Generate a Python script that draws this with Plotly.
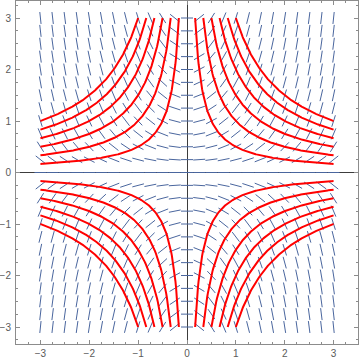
import numpy as np
import plotly.graph_objects as go

# ---- data ----
grid_x = [-3 + 0.25 * i for i in range(25)]      # arrow columns
grid_y = [-3 + 0.25 * i for i in range(25)]      # arrow rows
curve_c = [0.5, 1.0, 1.5, 2.0, 2.5, 3.0]          # red curves y = ±c/x
x_ticks = [-3, -2, -1, 0, 1, 2, 3]
y_ticks = [-3, -2, -1, 0, 1, 2, 3]

X_RANGE = [-3.5, 3.5]
Y_RANGE = [-3.33, 3.33]
W, H = 360, 361
ML, MR, MT, MB = 16, 2, 1, 17
sx = (W - ML - MR) / (X_RANGE[1] - X_RANGE[0])
sy = (H - MT - MB) / (Y_RANGE[1] - Y_RANGE[0])

def slope(x, y):
    return x * y

# slope-field segments
seg_x, seg_y = [], []
L = 12  # pixels
for gx in grid_x:
    for gy in grid_y:
        m = slope(gx, gy)
        px, py = sx * 1.0, sy * m
        n = np.hypot(px, py)
        dx = (px / n) * L / 2 / sx
        dy = (py / n) * L / 2 / sy
        seg_x += [gx - dx, gx + dx, None]
        seg_y += [gy - dy, gy + dy, None]

fig = go.Figure()
fig.add_trace(go.Scatter(x=seg_x, y=seg_y, mode="lines",
                         line=dict(color="rgb(74,102,158)", width=1),
                         hoverinfo="skip", showlegend=False))

# red curves in four quadrants
for c in curve_c:
    xs = np.linspace(c / 3, 3, 200)
    ys = c / xs
    for sxn, syn in [(1, 1), (-1, 1), (1, -1), (-1, -1)]:
        fig.add_trace(go.Scatter(x=sxn * xs, y=syn * ys, mode="lines",
                                 line=dict(color="rgb(255,0,0)", width=2),
                                 hoverinfo="skip", showlegend=False))

axis_common = dict(
    showgrid=False, zeroline=True, zerolinecolor="rgb(60,60,60)", zerolinewidth=1,
    showline=True, mirror="allticks", linecolor="rgb(140,140,140)", linewidth=1,
    ticks="inside", ticklen=4, tickcolor="rgb(140,140,140)", tickwidth=1,
    tickfont=dict(family="Liberation Sans, Arial, sans-serif", size=10, color="rgb(90,90,90)"),
    minor=dict(ticks="inside", ticklen=2, dtick=0.25, tick0=0, tickcolor="rgb(140,140,140)", showgrid=False),
    automargin=False, layer="above traces",
)
fig.update_xaxes(range=X_RANGE, tickvals=x_ticks, ticklabelstandoff=0, **axis_common)
fig.update_yaxes(range=Y_RANGE, tickvals=y_ticks, ticklabelstandoff=2, **axis_common)
fig.update_layout(width=W, height=H, margin=dict(l=ML, r=MR, t=MT, b=MB, autoexpand=False),
                  plot_bgcolor="white", paper_bgcolor="white")
fig.write_html("out.html", config={"displayModeBar": False, "staticPlot": True},
               post_script="document.body.style.margin='0';document.body.style.padding='0';document.body.style.overflow='hidden';")
